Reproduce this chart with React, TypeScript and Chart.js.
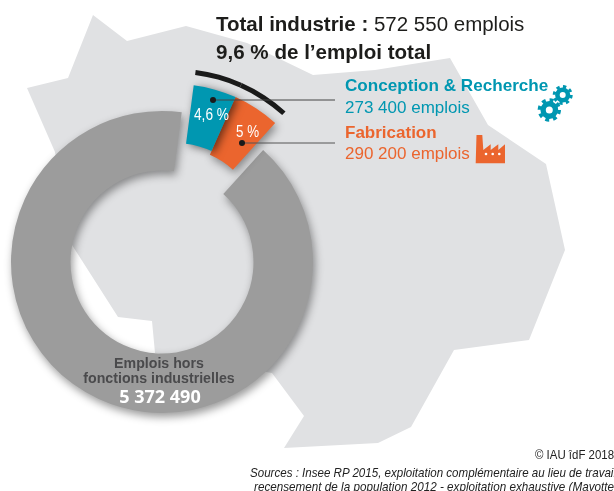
import React, { useEffect, useRef } from "react";
import { Chart, registerables } from "chart.js";

Chart.register(...registerables);

const WIDTH = 614;
const HEIGHT = 491;

// Shares of total employment, in percent
const shareLabels = ["Conception & Recherche", "Fabrication", "Emplois hors fonctions industrielles"];
const shareValues = [4.6, 5, 90.4];
const shareTexts = ["4,6 %", "5 %"];

const TEAL = "#0097B1";
const ORANGE = "#EB652E";
const GREY = "#9C9C9C";
const CLEAR = "rgba(0,0,0,0)";
const ROTATION = 7.5;

// One doughnut per layer, so the two industrial slices can sit further out than the ring
const shadow = "drop-shadow(2px 4px 4px rgba(0,0,0,0.4))";
const layers = [
  { colors: [CLEAR, CLEAR, GREY], cx: 162, cy: 262, outer: 151, inner: 91.5, filter: shadow },
  { colors: [CLEAR, ORANGE, CLEAR], cx: 174, cy: 235, outer: 151, inner: 88, filter: shadow },
  { colors: [TEAL, CLEAR, CLEAR], cx: 174, cy: 235, outer: 151, inner: 92, filter: "drop-shadow(3px 2px 4px rgba(0,0,0,0.55))" },
  { colors: ["#1A1A1A", "#1A1A1A", CLEAR], cx: 174, cy: 235, outer: 166.5, inner: 161.5, filter: "none" },
];

// Outline of the region behind the chart
const regionOutline = [
  [93, 15], [127, 41], [186, 26], [247, 43], [313, 75], [375, 70], [450, 58], [488, 125],
  [546, 164], [565, 250], [529, 340], [454, 350], [411, 427], [378, 443], [284, 448],
  [304, 416], [272, 373], [155, 353], [152, 321], [118, 317], [72, 245], [55, 152],
  [27, 88], [68, 78],
];

function Gear({ x, y, r, color }: { x: number; y: number; r: number; color: string }) {
  const tooth = (2 * Math.PI * r * 0.85) / 16;
  return (
    <g>
      <circle cx={x} cy={y} r={r * 0.85} fill="none" stroke={color} strokeWidth={r * 0.3} strokeDasharray={`${tooth} ${tooth}`} />
      <circle cx={x} cy={y} r={r * 0.53} fill="none" stroke={color} strokeWidth={r * 0.46} />
    </g>
  );
}

export default function App() {
  const canvases = useRef<(HTMLCanvasElement | null)[]>([]);

  useEffect(() => {
    const charts = layers.map((layer, i) => {
      const canvas = canvases.current[i] as HTMLCanvasElement;
      return new Chart(canvas, {
        type: "doughnut",
        data: {
          labels: shareLabels,
          datasets: [{ data: shareValues, backgroundColor: layer.colors, borderWidth: 0 }],
        },
        options: {
          animation: false,
          responsive: false,
          events: [],
          rotation: ROTATION,
          cutout: `${(layer.inner / layer.outer) * 100}%`,
          layout: {
            padding: {
              left: layer.cx - layer.outer,
              top: layer.cy - layer.outer,
              right: WIDTH - layer.cx - layer.outer,
              bottom: HEIGHT - layer.cy - layer.outer,
            },
          },
          plugins: { legend: { display: false }, tooltip: { enabled: false } },
        },
      });
    });
    return () => charts.forEach((c) => c.destroy());
  }, []);

  const full: React.CSSProperties = { position: "absolute", left: 0, top: 0 };
  const sans = "'Liberation Sans', Arial, sans-serif";
  const squeeze = "spacingAndGlyphs";

  return (
    <div style={{ position: "fixed", left: 0, top: 0, width: WIDTH, height: HEIGHT, overflow: "hidden", background: "#fff" }}>
      <svg width={WIDTH} height={HEIGHT} style={full}>
        <polygon points={regionOutline.map((p) => p.join(",")).join(" ")} fill="#E0E1E3" />
      </svg>
      {layers.map((layer, i) => (
        <canvas
          key={i}
          ref={(el) => {
            canvases.current[i] = el;
          }}
          width={WIDTH}
          height={HEIGHT}
          style={{ ...full, width: WIDTH, height: HEIGHT, filter: layer.filter }}
        />
      ))}
      <svg width={WIDTH} height={HEIGHT} style={full} fontFamily={sans}>
        {/* Leader lines from the slices to their captions */}
        <line x1={213} y1={100} x2={335} y2={100} stroke="#444" strokeWidth={1} />
        <line x1={242} y1={143} x2={335} y2={143} stroke="#555" strokeWidth={1} />
        <circle cx={213} cy={100} r={3} fill="#1A1A1A" />
        <circle cx={242} cy={143} r={3} fill="#1A1A1A" />

        <text x={216} y={31} fontSize={20.5} fill="#1D1D1B">
          <tspan fontWeight="bold">Total industrie : </tspan>572 550 emplois
        </text>
        <text x={216} y={59} fontSize={20.6} fontWeight="bold" fill="#1D1D1B">9,6 % de l’emploi total</text>

        <text x={345} y={91} fontSize={17.1} fontWeight="bold" fill={TEAL}>{shareLabels[0]}</text>
        <text x={345} y={113} fontSize={17} fill={TEAL}>273 400 emplois</text>
        <text x={345} y={138} fontSize={17} fontWeight="bold" fill={ORANGE}>{shareLabels[1]}</text>
        <text x={345} y={159} fontSize={17} fill={ORANGE}>290 200 emplois</text>

        <text x={194} y={120} fontSize={16} textLength={35} lengthAdjust={squeeze} fill="#fff">{shareTexts[0]}</text>
        <text x={236} y={137} fontSize={16} textLength={23} lengthAdjust={squeeze} fill="#fff">{shareTexts[1]}</text>

        <text x={159} y={368} fontSize={14.2} fontWeight="bold" textAnchor="middle" fill="#4A4A4C">Emplois hors</text>
        <text x={159} y={383} fontSize={14.2} fontWeight="bold" textAnchor="middle" fill="#4A4A4C">fonctions industrielles</text>
        <text x={160} y={403} fontSize={18} fontWeight="bold" textAnchor="middle" fontFamily="'Open Sans', sans-serif" fill="#fff">5 372 490</text>

        <text x={535} y={459} fontSize={13} textLength={79} lengthAdjust={squeeze} fill="#222">© IAU îdF 2018</text>
        <text x={250} y={477} fontSize={13} fontStyle="italic" textLength={366} lengthAdjust={squeeze} fill="#222">Sources : Insee RP 2015, exploitation complémentaire au lieu de travail</text>
        <text x={254} y={491} fontSize={13} fontStyle="italic" textLength={364} lengthAdjust={squeeze} fill="#222">recensement de la population 2012 - exploitation exhaustive (Mayotte)</text>

        {/* Gears and factory pictograms */}
        <Gear x={549.3} y={110} r={11.7} color={TEAL} />
        <Gear x={562.7} y={95} r={10} color={TEAL} />
        <path
          d="M476.5 135 H482.3 L483.3 150 L490.7 144.3 V150 L498.3 144.3 V150 L505 144.3 V163.3 H475.7 Z"
          fill={ORANGE}
        />
        <circle cx={486} cy={154} r={1.3} fill="#fff" />
        <circle cx={492.7} cy={154} r={1.3} fill="#fff" />
        <circle cx={499.3} cy={154} r={1.3} fill="#fff" />
      </svg>
    </div>
  );
}
